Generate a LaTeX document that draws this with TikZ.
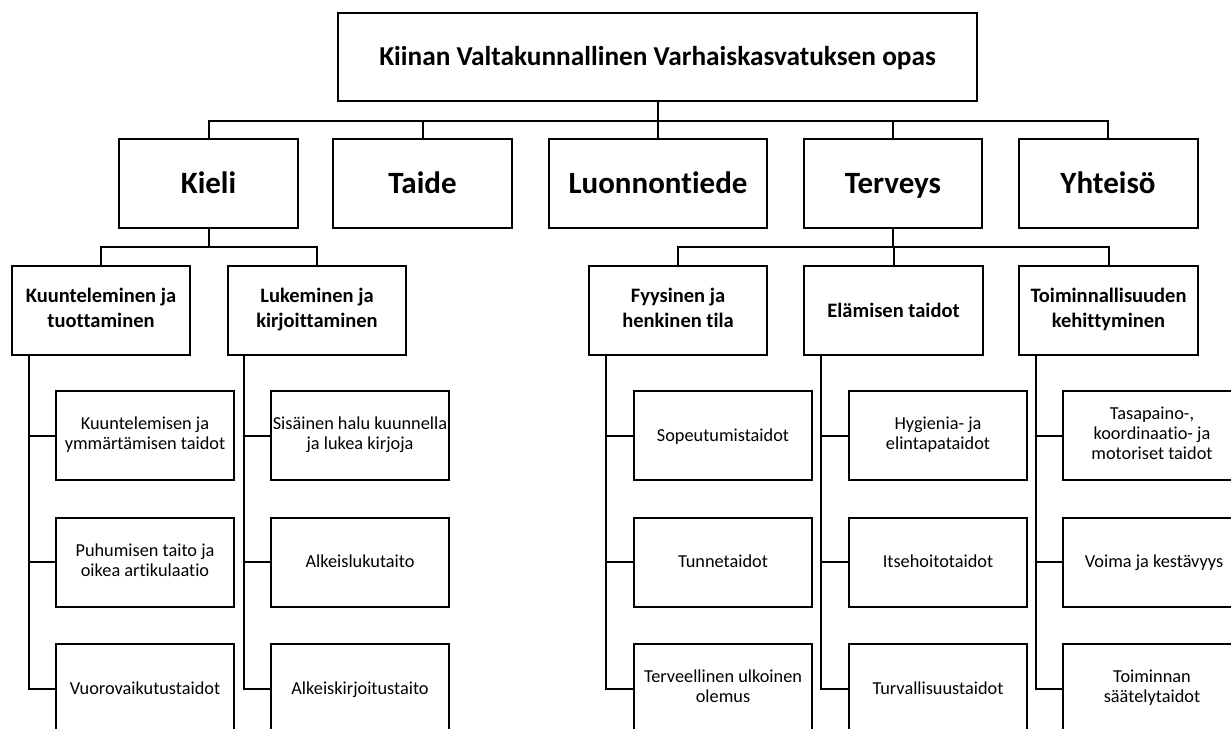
\documentclass[tikz,border=0pt]{standalone}
\usepackage{fontspec}
\setmainfont{Carlito}[Ligatures=CommonOff]
\newcommand{\lowstrut}{\rule[-0.22\baselineskip]{0pt}{\baselineskip}}
\begin{document}
\begin{tikzpicture}[x=1pt,y=-1pt,
  box/.style={draw=black,line width=2pt,fill=white,rectangle,inner sep=0pt,align=center,
    execute at begin node=\lowstrut,execute at end node=\lowstrut},
  rootbox/.style={box,minimum width=639pt,minimum height=88pt,font=\fontsize{27.3}{32}\selectfont\bfseries},
  topbox/.style={box,minimum width=179pt,minimum height=89pt,font=\fontsize{31}{36}\selectfont\bfseries},
  midbox/.style={box,minimum width=178pt,minimum height=89pt,font=\fontsize{20.5}{25}\selectfont\bfseries},
  leafbox/.style={box,minimum width=178pt,minimum height=89pt,font=\fontsize{18.3}{20}\selectfont},
  conn/.style={draw=black,line width=2pt}]
\useasboundingbox (0,0) rectangle (1231,728);
\clip (0,0) rectangle (1231,728);
\fill[white] (0,0) rectangle (1231,728);

% root and level 1
\node[rootbox] (root) at (657.5,57) {Kiinan Valtakunnallinen Varhaiskasvatuksen opas};
\node[topbox] (kieli) at (208.5,183.5) {Kieli};
\node[topbox] (taide) at (422.5,183.5) {Taide};
\node[topbox,minimum width=218pt] (luonto) at (658,183.5) {Luonnontiede};
\node[topbox,minimum width=178pt] (terveys) at (893,183.5) {Terveys};
\node[topbox] (yhteiso) at (1108,183.5) {Yhteisö};

% level 2
\node[midbox] (kuunt) at (101,310.5) {Kuunteleminen ja\\tuottaminen};
\node[midbox] (luke) at (317,310.5) {Lukeminen ja\\kirjoittaminen};
\node[midbox] (fyys) at (678,310.5) {Fyysinen ja\\henkinen tila};
\node[midbox,minimum width=179pt] (elam) at (893.5,310.5) {Elämisen taidot};
\node[midbox,minimum width=179pt] (toim) at (1108.5,310.5) {Toiminnallisuuden\\kehittyminen};

% leaves
\node[leafbox] (k1) at (145,435.5) {Kuuntelemisen ja\\ymmärtämisen taidot};
\node[leafbox] (k2) at (145,562) {Puhumisen taito ja\\oikea artikulaatio};
\node[leafbox] (k3) at (145,688.5) {Vuorovaikutustaidot};
\node[leafbox] (l1) at (360,435.5) {Sisäinen halu kuunnella\\ja lukea kirjoja};
\node[leafbox] (l2) at (360,562) {Alkeislukutaito};
\node[leafbox] (l3) at (360,688.5) {Alkeiskirjoitustaito};
\node[leafbox] (f1) at (723,435.5) {Sopeutumistaidot};
\node[leafbox] (f2) at (723,562) {Tunnetaidot};
\node[leafbox] (f3) at (723,688.5) {Terveellinen ulkoinen\\olemus};
\node[leafbox] (e1) at (938,435.5) {Hygienia- ja\\elintapataidot};
\node[leafbox] (e2) at (938,562) {Itsehoitotaidot};
\node[leafbox] (e3) at (938,688.5) {Turvallisuustaidot};
\node[leafbox] (t1) at (1152,435.5) {Tasapaino-,\\koordinaatio- ja\\motoriset taidot};
\node[leafbox] (t2) at (1152,562) {\hspace*{4pt}Voima ja kestävyys};
\node[leafbox] (t3) at (1152,688.5) {Toiminnan\\säätelytaidot};

% bus coordinates
\coordinate (b1) at (0,121);
\coordinate (b2) at (0,247);

% root to level 1
\draw[conn] (root.south) -- (root.south |- b1);
\draw[conn] (kieli.north) -- (kieli.north |- b1) -| (yhteiso.north);
\draw[conn] (taide.north) -- (taide.north |- b1);
\draw[conn] (luonto.north) -- (luonto.north |- b1);
\draw[conn] (terveys.north) -- (terveys.north |- b1);

% level 1 to level 2
\draw[conn] (kieli.south) -- (kieli.south |- b2);
\draw[conn] (kuunt.north) -- (kuunt.north |- b2) -| (luke.north);
\draw[conn] (terveys.south) -- (terveys.south |- b2);
\draw[conn] (fyys.north) -- (fyys.north |- b2) -| (toim.north);
\draw[conn] (elam.north) -- (elam.north |- b2);

% spines
\coordinate (ks) at ([xshift=18pt]kuunt.south west);
\coordinate (ls) at ([xshift=17pt]luke.south west);
\coordinate (fs) at ([xshift=18pt]fyys.south west);
\coordinate (es) at ([xshift=18pt]elam.south west);
\coordinate (ts) at ([xshift=18pt]toim.south west);
\draw[conn] (ks) |- (k3.west);
\draw[conn] (k1.west) -- (k1.west -| ks);
\draw[conn] (k2.west) -- (k2.west -| ks);
\draw[conn] (ls) |- (l3.west);
\draw[conn] (l1.west) -- (l1.west -| ls);
\draw[conn] (l2.west) -- (l2.west -| ls);
\draw[conn] (fs) |- (f3.west);
\draw[conn] (f1.west) -- (f1.west -| fs);
\draw[conn] (f2.west) -- (f2.west -| fs);
\draw[conn] (es) |- (e3.west);
\draw[conn] (e1.west) -- (e1.west -| es);
\draw[conn] (e2.west) -- (e2.west -| es);
\draw[conn] (ts) |- (t3.west);
\draw[conn] (t1.west) -- (t1.west -| ts);
\draw[conn] (t2.west) -- (t2.west -| ts);
\end{tikzpicture}
\end{document}
